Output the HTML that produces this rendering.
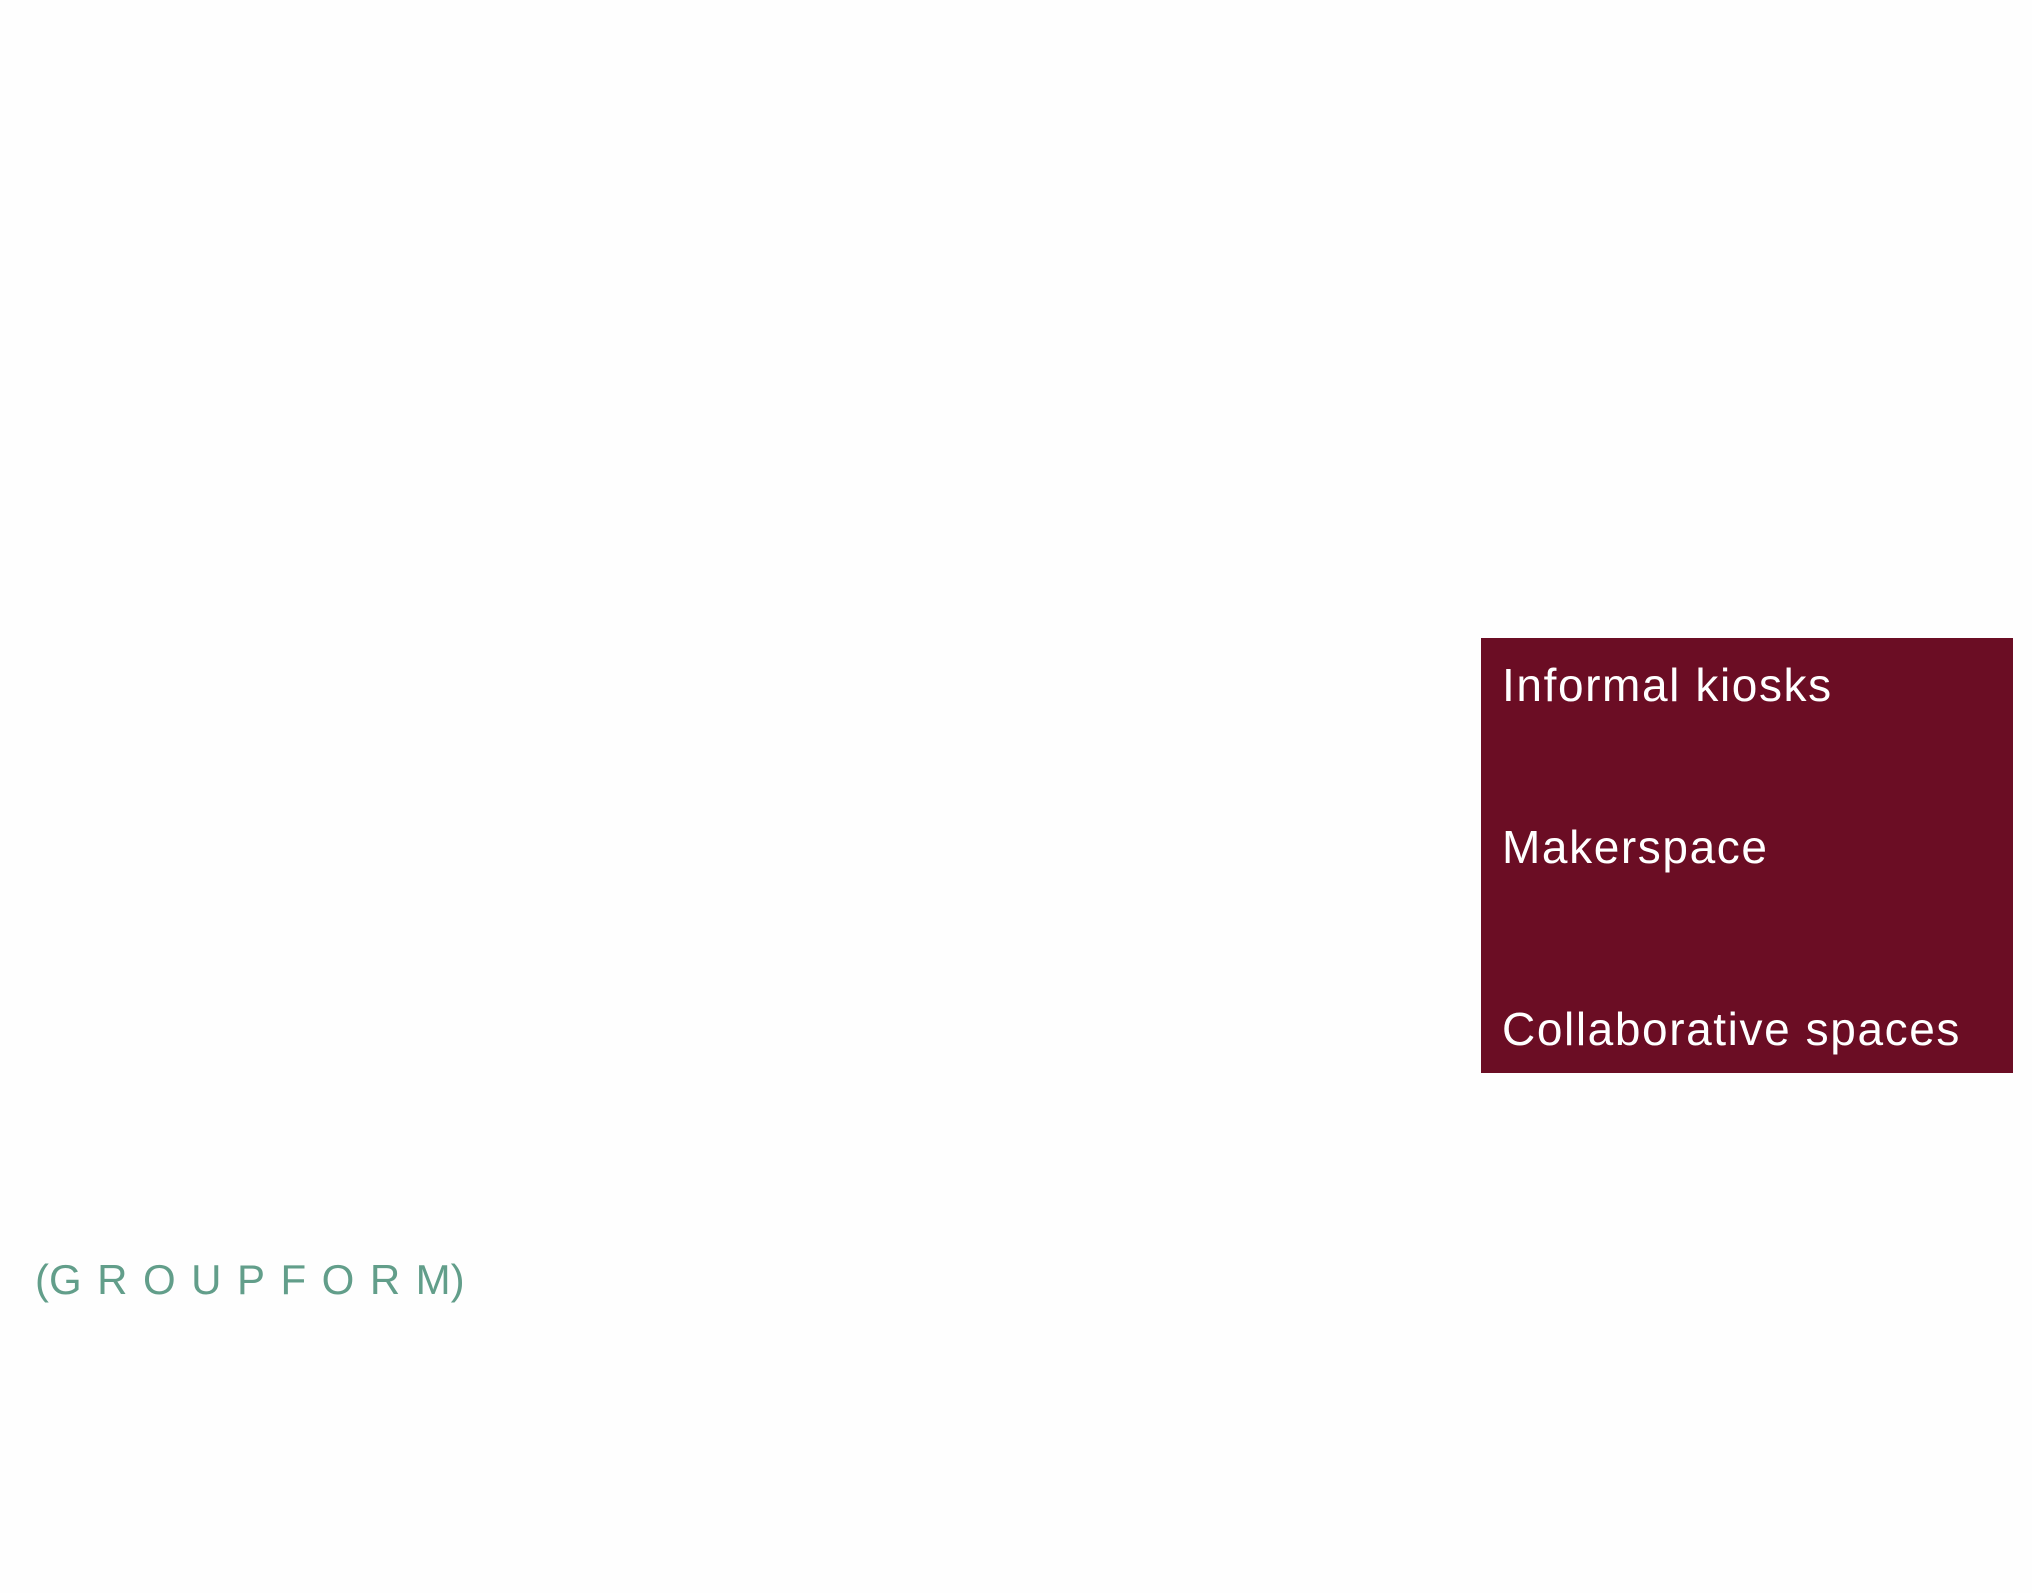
<!DOCTYPE html>
<html><head><style>
html,body{margin:0;padding:0;background:#fefefe;}
body{width:2032px;height:1593px;position:relative;overflow:hidden;font-family:"Liberation Sans",sans-serif;}
.box{position:absolute;left:1481px;top:638px;width:532px;height:435px;background:#6b0d24;}
.t{position:absolute;left:1502px;color:#fff;font-size:46px;letter-spacing:1.6px;line-height:1;white-space:nowrap;}
.g{position:absolute;left:35px;top:1259px;color:#629e8a;font-size:42px;line-height:1;white-space:nowrap;}
.g span{letter-spacing:15.5px;}
</style></head><body>
<div class="box"></div>
<div class="t" style="top:662px">Informal kiosks</div>
<div class="t" style="top:824px">Makerspace</div>
<div class="t" style="top:1006px">Collaborative spaces</div>
<div class="g">(<span>GROUPFOR</span>M)</div>
</body></html>
